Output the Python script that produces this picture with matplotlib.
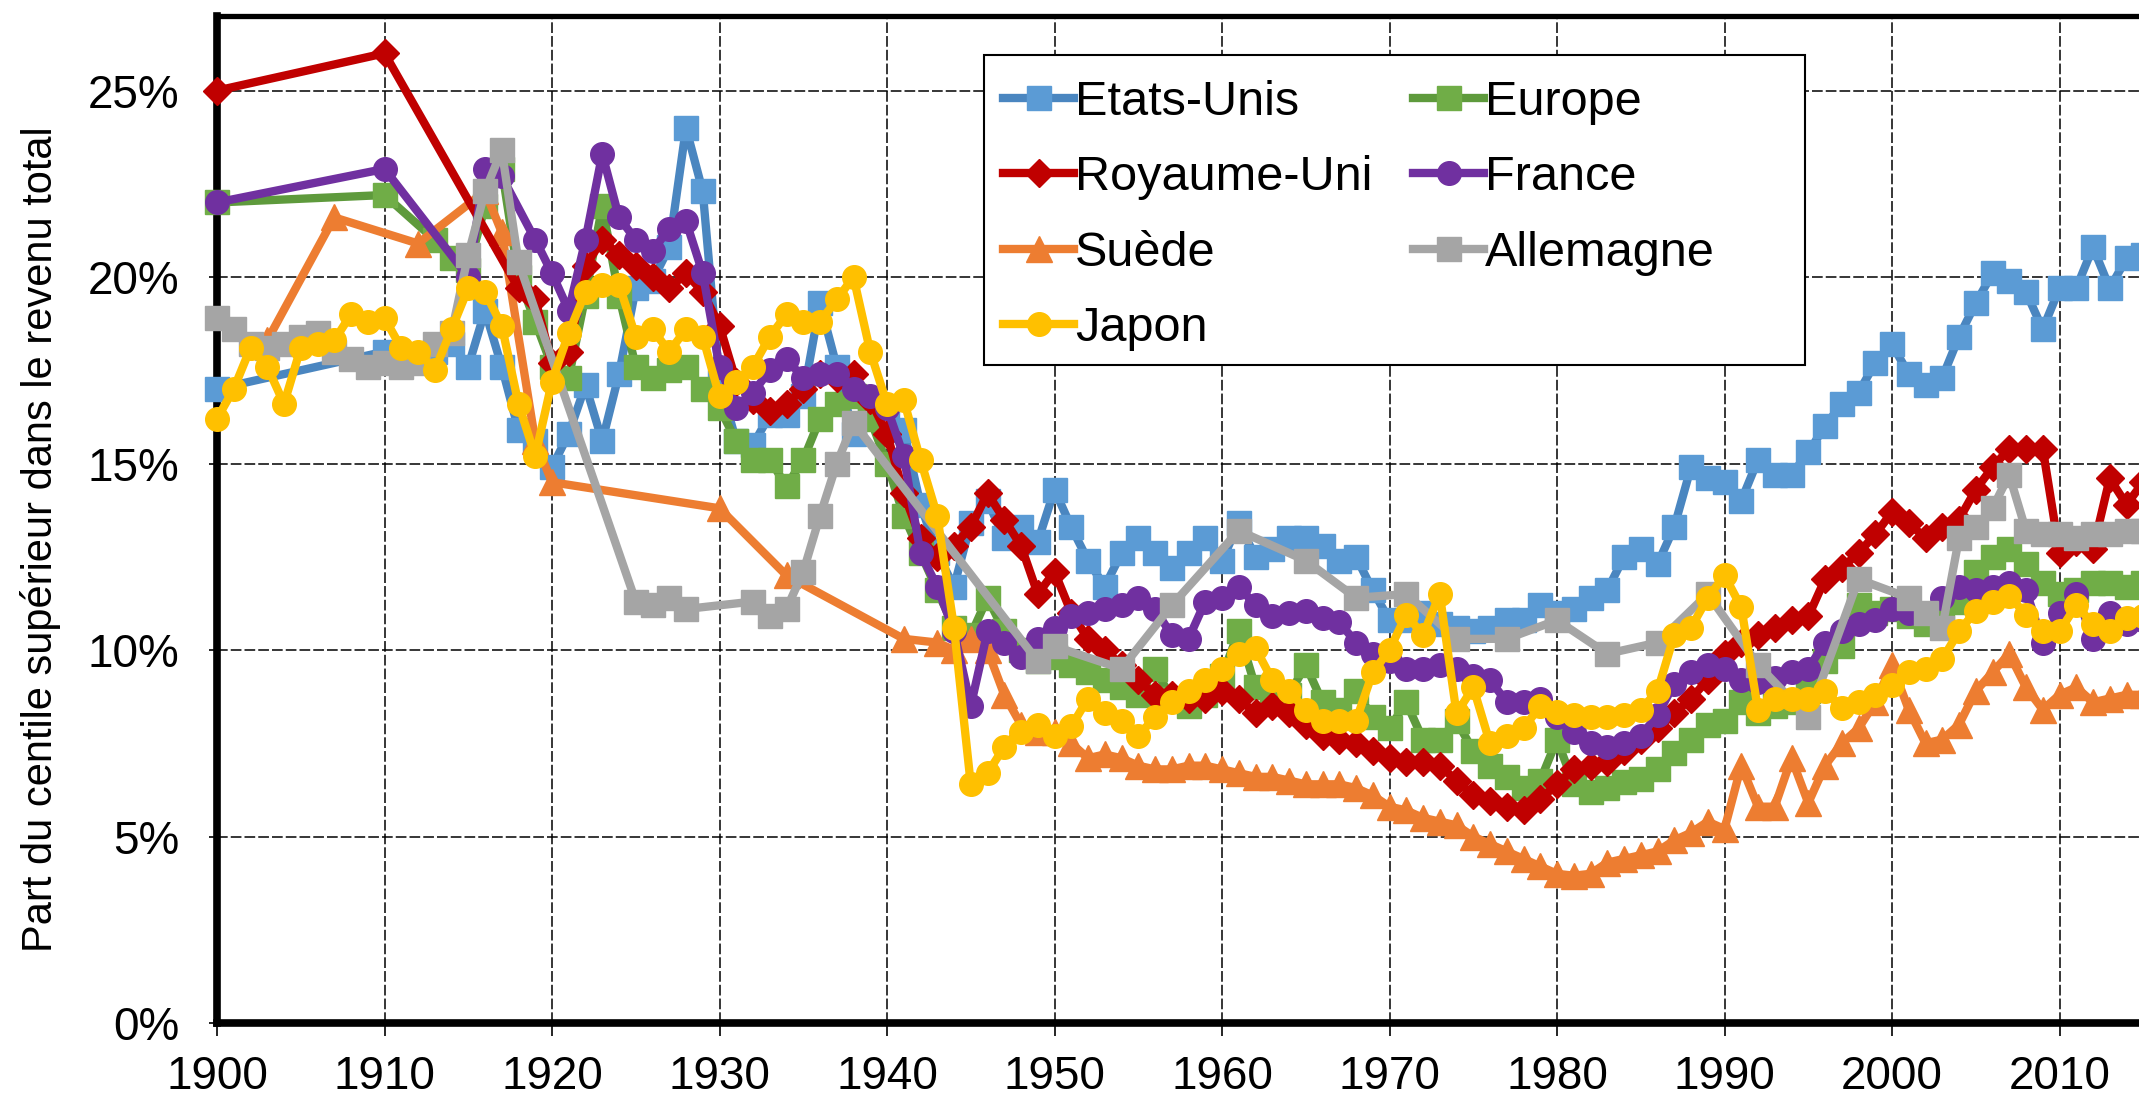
import matplotlib
matplotlib.use("Agg")
import matplotlib.pyplot as plt
from matplotlib.patches import Rectangle
from matplotlib.ticker import FuncFormatter

plt.rcParams["font.family"] = ["Liberation Sans", "DejaVu Sans"]

# ====== DONNEES (part du centile supérieur, %) ======
annees_us = [1900, 1910] + list(range(1913, 2016))
part_us = [17.0, 18.0,
           18.0, 18.2, 17.6, 19.1, 17.6, 15.9, 15.6,
           14.9, 15.8, 17.1, 15.6, 17.4, 19.7, 19.9, 20.8, 24.0, 22.3,
           17.2, 15.6, 15.5, 16.3, 16.3, 16.8, 19.3, 17.6, 15.8, 16.3,
           16.5, 15.9, 13.9, 12.6, 11.7, 13.4, 14.0, 13.0, 13.3, 12.9,
           14.3, 13.3, 12.4, 11.7, 12.6, 13.0, 12.6, 12.2, 12.6, 13.0,
           12.4, 13.4, 12.5, 12.7, 13.0, 13.0, 12.8, 12.4, 12.5, 11.6,
           10.8, 10.8, 11.0, 10.7, 10.6, 10.5, 10.6, 10.8, 10.8, 11.2,
           11.0, 11.1, 11.4, 11.6, 12.5, 12.7, 12.3, 13.3, 14.9, 14.6,
           14.5, 14.0, 15.1, 14.7, 14.7, 15.3, 16.0, 16.6, 16.9, 17.7,
           18.2, 17.4, 17.1, 17.3, 18.4, 19.3, 20.1, 19.9, 19.6, 18.6,
           19.7, 19.7, 20.8, 19.7, 20.5, 20.6]

annees_eu = [1900, 1910] + list(range(1913, 2016))
part_eu = [22.0, 22.2,
           21.0, 20.5, 20.2, 21.9, 22.9, 20.0, 18.8,
           17.6, 17.3, 19.5, 21.9, 19.5, 17.6, 17.3, 17.5, 17.6, 17.0,
           16.5, 15.6, 15.1, 15.1, 14.4, 15.1, 16.2, 16.6, 16.8, 16.2,
           15.0, 13.6, 12.6, 11.6, 10.6, 10.4, 11.4, 10.5, 10.0, 9.7,
           9.8, 9.6, 9.4, 9.2, 9.0, 8.8, 9.5, 8.7, 8.5, 8.8,
           9.3, 10.5, 9.0, 8.8, 8.8, 9.6, 8.6, 8.4, 8.9, 8.2,
           7.9, 8.6, 7.6, 7.6, 8.1, 7.3, 6.9, 6.6, 6.3, 6.5,
           7.6, 6.4, 6.2, 6.3, 6.45, 6.55, 6.8, 7.25, 7.6, 8.0,
           8.1, 8.6, 8.3, 8.5, 8.6, 8.9, 9.7, 10.1, 11.2, 11.0,
           11.1, 10.9, 10.7, 10.9, 11.3, 12.1, 12.5, 12.7, 12.3, 11.8,
           11.5, 11.6, 11.8, 11.8, 11.7, 11.8]

annees_se = [1903, 1907, 1912, 1916, 1917, 1919, 1920, 1930, 1934, 1941] + list(range(1943, 2016))
part_se = [18.3, 21.6, 20.9, 22.3, 21.2, 15.6, 14.5, 13.8, 12.0, 10.3,
           10.2, 10.0, 10.3, 10.0, 8.8, 8.0, 7.8,
           7.8, 7.5, 7.1, 7.2, 7.1, 6.9, 6.8, 6.8, 6.9, 6.9,
           6.8, 6.7, 6.6, 6.6, 6.5, 6.4, 6.4, 6.4, 6.3, 6.1,
           5.8, 5.7, 5.5, 5.4, 5.3, 5.0, 4.8, 4.6, 4.4, 4.2,
           4.0, 3.95, 4.0, 4.3, 4.4, 4.5, 4.6, 4.9, 5.1, 5.4,
           5.2, 6.9, 5.8, 5.8, 7.1, 5.9, 6.9, 7.5, 7.9, 8.6,
           9.6, 8.4, 7.5, 7.6, 8.0, 8.9, 9.4, 9.9, 9.0, 8.4,
           8.8, 9.0, 8.6, 8.7, 8.8, 8.8]

annees_uk = [1900, 1910] + list(range(1918, 2016))
part_uk = [25.0, 26.0,
           19.7, 19.4,
           17.7, 18.0, 20.3, 21.0, 20.6, 20.3, 20.0, 19.7, 20.1, 19.6,
           18.7, 17.2, 16.7, 16.4, 16.6, 17.0, 17.4, 17.3, 17.4, 16.7,
           15.8, 14.2, 13.0, 12.5, 12.8, 13.3, 14.2, 13.5, 12.8, 11.5,
           12.1, 11.0, 10.3, 10.0, 9.6, 9.2, 8.8, 8.8, 8.7, 8.7,
           8.9, 8.7, 8.3, 8.5, 8.3, 8.0, 7.7, 7.6, 7.5, 7.3,
           7.1, 7.0, 7.0, 6.9, 6.5, 6.1, 5.95, 5.8, 5.7, 6.0,
           6.4, 6.8, 6.9, 7.0, 7.3, 7.6, 7.9, 8.3, 8.7, 9.2,
           9.9, 10.2, 10.4, 10.6, 10.8, 10.9, 11.9, 12.2, 12.6, 13.1,
           13.7, 13.4, 13.0, 13.3, 13.5, 14.3, 14.9, 15.4, 15.4, 15.4,
           12.6, 12.9, 12.7, 14.6, 13.9, 14.5]

annees_fr = [1900, 1910, 1915, 1916, 1917] + list(range(1919, 2016))
part_fr = [22.0, 22.9, 20.0, 22.9, 22.7,
           21.0,
           20.1, 19.1, 21.0, 23.3, 21.6, 21.0, 20.7, 21.3, 21.5, 20.1,
           17.6, 16.5, 16.9, 17.5, 17.8, 17.3, 17.4, 17.4, 17.0, 16.8,
           16.5, 15.2, 12.6, 11.7, 10.5, 8.5, 10.5, 10.2, 9.8, 10.3,
           10.6, 10.9, 11.0, 11.1, 11.2, 11.4, 11.1, 10.4, 10.3, 11.3,
           11.4, 11.7, 11.2, 10.9, 11.0, 11.05, 10.85, 10.75, 10.2, 9.9,
           9.7, 9.5, 9.5, 9.6, 9.5, 9.3, 9.2, 8.6, 8.6, 8.7,
           8.2, 7.8, 7.5, 7.4, 7.5, 7.7, 8.25, 9.1, 9.4, 9.6,
           9.5, 9.2, 9.15, 9.25, 9.4, 9.5, 10.2, 10.5, 10.7, 10.8,
           11.1, 11.0, 11.0, 11.4, 11.7, 11.6, 11.7, 11.8, 11.6, 10.2,
           11.0, 11.5, 10.3, 11.0, 10.7, 10.8]

annees_de = (list(range(1900, 1919)) + [1925, 1926, 1927, 1928, 1932, 1933, 1934, 1935, 1936, 1937, 1938,
             1949, 1950, 1954, 1957, 1961, 1965, 1968, 1971, 1974, 1977, 1980, 1983, 1986, 1989,
             1992, 1995, 1998] + list(range(2001, 2016)))
part_de = [18.9, 18.6, 18.2, 18.1, 18.2, 18.4, 18.5, 18.0, 17.8, 17.6,
           17.7, 17.6, 17.7, 18.2, 18.5, 20.6, 22.3, 23.4, 20.4,
           11.3, 11.2, 11.4, 11.1, 11.3, 10.9, 11.1, 12.1, 13.6, 15.0, 16.1,
           9.7, 10.1, 9.5, 11.2, 13.2, 12.4, 11.4, 11.5, 10.3, 10.3, 10.8, 9.9, 10.2, 11.5,
           9.6, 8.2, 11.9,
           11.4, 11.0, 10.6, 13.0, 13.3, 13.8, 14.7, 13.2, 13.1, 13.1, 13.0, 13.1, 13.1, 13.2, 13.2]

annees_jp = list(range(1900, 2016))
part_jp = [16.2, 17.0, 18.1, 17.6, 16.6, 18.1, 18.2, 18.3, 19.0, 18.8,
           18.9, 18.1, 18.0, 17.5, 18.6, 19.7, 19.6, 18.7, 16.6, 15.2,
           17.2, 18.5, 19.6, 19.8, 19.8, 18.4, 18.6, 18.0, 18.6, 18.4,
           16.8, 17.2, 17.6, 18.4, 19.0, 18.8, 18.8, 19.4, 20.0, 18.0,
           16.6, 16.7, 15.1, 13.6, 10.6, 6.4, 6.7, 7.4, 7.8, 8.0,
           7.7, 7.95, 8.7, 8.3, 8.1, 7.7, 8.2, 8.6, 8.9, 9.2,
           9.5, 9.9, 10.05, 9.2, 8.9, 8.4, 8.1, 8.1, 8.1, 9.4,
           10.0, 10.95, 10.4, 11.5, 8.3, 9.0, 7.5, 7.7, 7.9, 8.5,
           8.35, 8.25, 8.2, 8.2, 8.25, 8.4, 8.9, 10.4, 10.6, 11.4,
           12.0, 11.15, 8.4, 8.7, 8.7, 8.7, 8.9, 8.45, 8.6, 8.8,
           9.05, 9.4, 9.5, 9.75, 10.5, 11.05, 11.3, 11.45, 10.95, 10.5,
           10.5, 11.2, 10.7, 10.5, 10.85, 10.9]

# (nom, années, valeurs, couleur ligne, couleur marqueur, marqueur, taille)
series = [
    ("Etats-Unis", annees_us, part_us, "#4A86C0", "#5B9BD5", "s", 17),
    ("Europe", annees_eu, part_eu, "#5E9A3C", "#70AD47", "s", 17),
    ("Suède", annees_se, part_se, "#ED7D31", "#ED7D31", "^", 19),
    ("Royaume-Uni", annees_uk, part_uk, "#C00000", "#C00000", "D", 14),
    ("France", annees_fr, part_fr, "#7030A0", "#7030A0", "o", 17),
    ("Allemagne", annees_de, part_de, "#A5A5A5", "#A5A5A5", "s", 17),
    ("Japon", annees_jp, part_jp, "#FFC000", "#FFC000", "o", 17),
]
ordre_legende = ["Etats-Unis", "Royaume-Uni", "Suède", "Japon", "Europe", "France", "Allemagne"]

W, H = 2139, 1103
fig = plt.figure(figsize=(W / 100, H / 100), dpi=100)
# l'axe dépasse à droite : le graphique est coupé vers 2015
ax = fig.add_axes([217 / W, 80 / H, 2010 / W, 1007 / H])

poignees = {}
for i, (nom, xs, ys, c_ligne, c_marq, m, ms) in enumerate(series):
    assert len(xs) == len(ys), nom
    ln, = ax.plot(xs, ys, color=c_ligne, lw=6, marker=m, ms=ms,
                  markerfacecolor=c_marq, markeredgecolor=c_marq,
                  zorder=3 + i, clip_on=False)
    poignees[nom] = ln

ax.set_xlim(1900, 2020)
ax.set_ylim(0, 27)
ax.set_xticks(range(1900, 2011, 10))
ax.set_yticks(range(0, 26, 5))
ax.yaxis.set_major_formatter(FuncFormatter(lambda v, p: f"{v:.0f}%"))

ax.set_axisbelow(True)
ax.grid(True, color="black", lw=1.1, ls=(0, (7, 2)))

for cote, lw in [("left", 5.5), ("bottom", 5.5), ("top", 3.8)]:
    ax.spines[cote].set_linewidth(lw)
    ax.spines[cote].set_color("black")
ax.spines["right"].set_visible(False)

ax.tick_params(axis="x", direction="out", length=9, width=1.2, pad=14, labelsize=33)
ax.tick_params(axis="y", direction="out", length=6, width=1.2, pad=21, labelsize=33)

fig.text(41 / W, 1 - 539 / H, "Part du centile supérieur dans le revenu total",
         rotation=90, ha="center", va="center", fontsize=30)

# cadre de la légende (plus large que son contenu, comme sous Excel)
cadre = Rectangle((984 / W, 1 - 365 / H), 821 / W, 310 / H, transform=fig.transFigure,
                  facecolor="white", edgecolor="black", lw=1.5, zorder=20, clip_on=False)
ax.add_patch(cadre)

leg = ax.legend([poignees[n] for n in ordre_legende], ordre_legende, ncol=2,
                frameon=False, fontsize=35, handlelength=1.45, handletextpad=0.02,
                columnspacing=0.85, labelspacing=0.62, borderpad=0,
                loc="upper left", bbox_to_anchor=(979 / W, 1 - 56 / H),
                bbox_transform=fig.transFigure)
leg.set_zorder(21)

fig.savefig("out.png", dpi=100)
